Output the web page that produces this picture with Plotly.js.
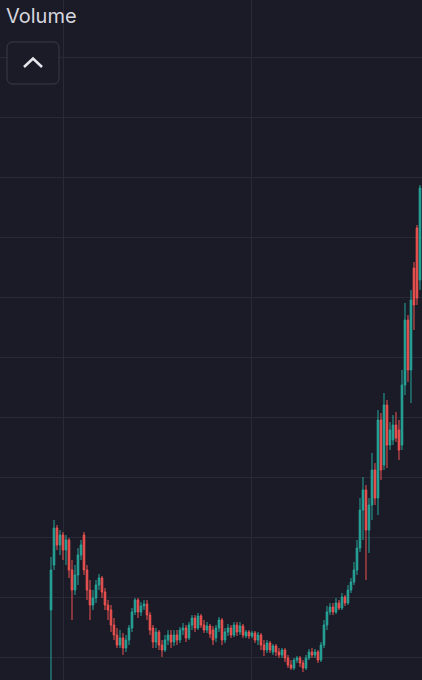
<!DOCTYPE html>
<html>
<head>
<meta charset="utf-8">
<script src="https://cdn.plot.ly/plotly-3.0.1.min.js"></script>
<style>
html,body{margin:0;padding:0;background:#1b1b27;overflow:hidden;}
#chart{width:422px;height:680px;}
</style>
</head>
<body>
<div id="chart"></div>
<script>
// Candle values (arbitrary price units), one entry per bar
const openV = [70,115,152,135,145,130,140,110,90,105,125,145,110,90,75,82,95,102,88,75,70,55,45,35,42,32,40,52,68,80,68,74,76,65,52,38,48,35,30,40,45,38,45,40,50,52,42,55,62,52,64,55,50,54,50,42,52,60,40,48,52,45,55,48,54,44,48,44,47,40,45,35,30,37,28,34,28,25,30,22,15,12,20,22,17,12,22,28,25,28,20,35,55,68,73,68,77,72,83,77,90,98,110,132,170,190,150,175,210,182,260,215,275,235,240,255,250,235,295,360,310,412,452,400];
const highV = [123,160,155,150,148,145,142,120,115,132,140,148,115,100,90,100,106,104,92,80,75,62,52,50,47,45,55,72,82,82,78,80,80,68,55,52,50,40,45,50,50,50,50,53,57,55,58,65,65,67,66,60,58,56,54,55,63,62,52,56,55,58,58,58,56,50,50,49,49,48,47,40,40,39,36,36,32,32,32,25,20,22,24,24,20,25,31,32,31,30,38,60,74,77,77,82,80,87,85,95,102,118,140,182,203,195,182,227,217,270,267,287,280,258,265,268,260,310,377,365,390,418,455,495];
const lowV = [-20,110,130,125,120,115,102,60,85,95,120,105,80,60,70,77,90,82,70,60,48,40,32,32,25,28,35,48,65,62,64,70,60,45,32,32,30,23,28,35,32,34,35,37,45,38,40,50,48,50,52,47,47,42,35,38,48,35,37,44,42,43,44,45,42,42,41,42,37,35,30,24,27,27,25,24,22,22,18,12,10,10,17,13,8,10,20,22,22,17,18,32,50,65,65,66,70,70,74,75,87,95,105,128,140,100,127,160,175,165,200,210,212,230,235,238,220,230,285,298,277,350,375,390];
const closeV = [110,152,135,145,130,140,110,90,105,125,135,110,90,75,82,95,102,88,75,70,55,45,35,42,32,40,52,68,80,68,74,76,65,50,38,48,35,30,40,45,38,45,40,50,52,42,55,62,52,64,55,50,54,46,40,52,60,40,48,52,45,55,48,54,45,48,44,47,40,45,35,30,37,30,34,28,25,30,22,15,12,20,22,17,12,22,28,25,28,20,35,55,68,73,68,77,72,83,77,90,98,110,132,170,190,150,175,210,182,260,210,275,235,250,255,242,230,295,360,310,380,375,382,492];
const barIndex = openV.map((_, i) => i);

const W = 422, H = 680;
function px(x){ return (x / W).toFixed(5); }
function py(y){ return (1 - y / H).toFixed(5); }
function P(x, y){ return px(x) + ',' + py(y); }

const btn = 'M' + P(13,42) + ' L' + P(53,42) + ' Q' + P(59,42) + ' ' + P(59,48) +
  ' L' + P(59,78) + ' Q' + P(59,84) + ' ' + P(53,84) + ' L' + P(13,84) +
  ' Q' + P(7,84) + ' ' + P(7,78) + ' L' + P(7,48) + ' Q' + P(7,42) + ' ' + P(13,42) + ' Z';
const chevron = 'M' + P(24,67) + ' L' + P(33,58.5) + ' L' + P(42,67);

const trace = {
  type: 'candlestick',
  x: barIndex,
  open: openV, high: highV, low: lowV, close: closeV,
  increasing: {line: {color: '#26a69a', width: 1}, fillcolor: '#26a69a'},
  decreasing: {line: {color: '#ef5350', width: 1}, fillcolor: '#ef5350'},
  whiskerwidth: 0,
  showlegend: false,
  hoverinfo: 'skip'
};

const layout = {
  width: W, height: H,
  margin: {l: 0, r: 0, t: 0, b: 0},
  paper_bgcolor: '#1b1b27',
  plot_bgcolor: '#1b1b27',
  showlegend: false,
  boxgap: 0.25,
  xaxis: {
    range: [-17, 123.67],
    tickmode: 'linear', tick0: 4.33, dtick: 62.67,
    showgrid: true, gridcolor: '#2a2a36', gridwidth: 1,
    showticklabels: false, zeroline: false, showline: false, ticks: '',
    rangeslider: {visible: false}, fixedrange: true
  },
  yaxis: {
    range: [0, 680],
    tickmode: 'linear', tick0: 23, dtick: 60,
    showgrid: true, gridcolor: '#2a2a36', gridwidth: 1,
    showticklabels: false, zeroline: false, showline: false, ticks: '',
    fixedrange: true
  },
  shapes: [
    {type: 'path', xref: 'paper', yref: 'paper', path: btn, layer: 'above',
     fillcolor: '#1b1b27', line: {color: '#3a3b47', width: 1}},
    {type: 'path', xref: 'paper', yref: 'paper', path: chevron, layer: 'above',
     line: {color: '#e6e6ec', width: 2.5}}
  ],
  annotations: [
    {text: 'Volume', xref: 'paper', yref: 'paper', x: 4 / W, y: 1 - 16 / H,
     xanchor: 'left', yanchor: 'middle', showarrow: false,
     font: {family: 'Inter, Roboto, sans-serif', size: 20, color: '#d6d6de'}}
  ]
};

Plotly.newPlot('chart', [trace], layout, {displayModeBar: false, staticPlot: true});
</script>
</body>
</html>
